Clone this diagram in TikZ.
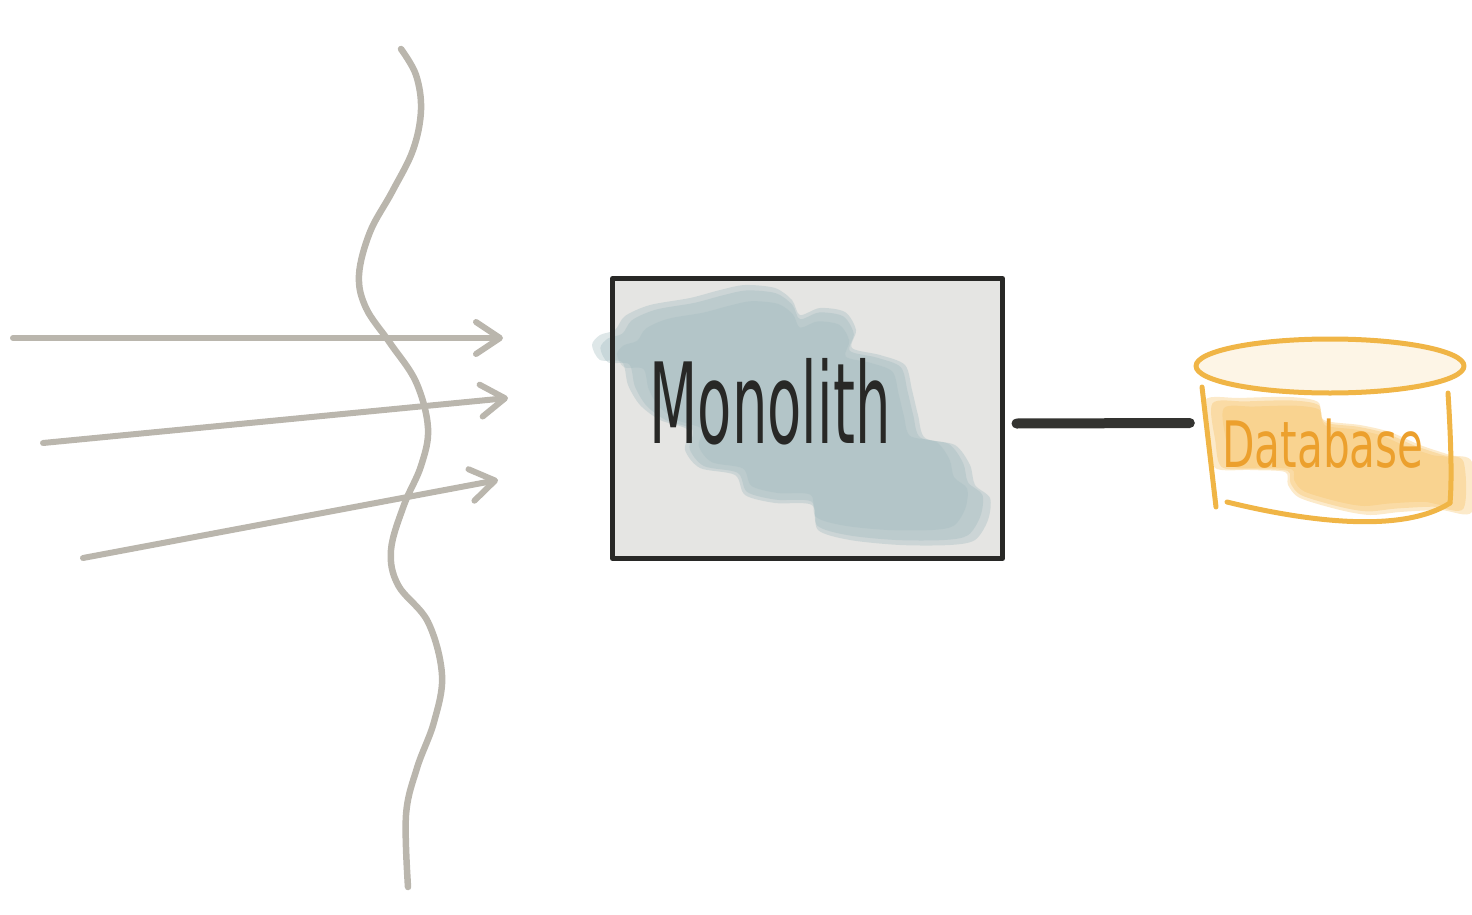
\documentclass[tikz,border=0pt]{standalone}
\usepackage{fontspec}
\setmainfont{DejaVu Sans}
\usetikzlibrary{arrows.meta,calc}
\definecolor{wavegray}{RGB}{186,182,173}
\definecolor{boxfill}{RGB}{229,229,227}
\definecolor{boxline}{RGB}{40,40,38}
\definecolor{blobblue}{RGB}{160,186,190}
\definecolor{connline}{RGB}{51,51,48}
\definecolor{dbline}{RGB}{240,181,70}
\definecolor{dbtop}{RGB}{253,245,230}
\definecolor{dbblob}{RGB}{245,185,80}
\definecolor{dbtext}{RGB}{236,160,45}
\tikzset{
  wave/.style={draw=wavegray, line width=6.5pt, line cap=round, line join=round},
  inarrow/.style={draw=wavegray, line width=6pt, line cap=round,
    -{Straight Barb[length=24pt,width=32pt,round]}},
  monobox/.style={fill=boxfill, minimum width=390pt, minimum height=280pt, inner sep=0pt, outer sep=0pt},
  conn/.style={draw=connline, line width=10pt, line cap=round},
  dbstroke/.style={draw=dbline, line width=5pt, line cap=round, line join=round},
}
\newcommand{\monoblob}{plot[smooth cycle, tension=0.5] coordinates {
 (615,330) (625,316) (650,305) (690,298) (720,290) (745,285) (775,288) (792,300)
 (800,315) (820,308) (845,312) (856,330) (852,348) (880,355) (905,365) (912,390)
 (918,415) (925,438) (955,445) (970,465) (975,485) (990,498) (988,520) (975,540)
 (950,545) (900,545) (850,540) (818,530) (812,505) (775,503) (745,495) (735,475)
 (700,468) (685,450) (688,430) (660,420) (640,405) (628,385) (622,362) (600,360)
 (592,345) (600,335)}}
\newcommand{\dbblobpath}{plot[smooth cycle, tension=0.5] coordinates {
 (1205,400) (1240,398) (1290,397) (1318,402) (1324,420) (1360,425) (1390,432)
 (1420,445) (1450,455) (1472,462) (1472,512) (1440,510) (1400,512) (1370,515)
 (1340,510) (1300,498) (1288,485) (1285,472) (1250,470) (1215,468) (1208,440)}}
\begin{document}
\begin{tikzpicture}[x=1pt,y=-1pt]
\useasboundingbox (0,0) rectangle (1472,915);
% wavy boundary line
\draw[wave] plot[smooth, tension=0.6] coordinates {
 (401,49) (416,75) (421,110) (413,150) (392,192) (370,232) (359,275) (366,308)
 (390,343) (416,382) (428,428) (421,466) (404,505) (391,550) (398,585)
 (428,622) (442,675) (434,722) (417,768) (406,815) (408,887)};
% incoming arrows
\coordinate (a1s) at (13,338);  \coordinate (a1e) at (503,338);
\coordinate (a2s) at (43,443);  \coordinate (a2e) at (508,398);
\coordinate (a3s) at (83,558);  \coordinate (a3e) at (498,480);
\draw[inarrow] (a1s) -- (a1e);
\draw[inarrow] (a2s) -- (a2e);
\draw[inarrow] (a3s) -- (a3e);
% monolith box
\node[monobox] (mono) at (807.5,418.5) {};
\fill[blobblue, opacity=0.35] \monoblob;
\fill[blobblue, opacity=0.35, scale around={0.96:(800,420)}] \monoblob;
\fill[blobblue, opacity=0.3, scale around={0.88:(800,420)}] \monoblob;
\draw[boxline, line width=5pt, line join=round] (mono.south west) rectangle (mono.north east);
\node[text=boxline, inner sep=0pt] (monotext) at (770,402)
  {\scalebox{0.5}[1]{\fontsize{112}{112}\selectfont Monolith}};
% database
\node[minimum width=274pt, minimum height=200pt, inner sep=0pt] (db) at (1327,423) {};
\fill[dbblob, opacity=0.3] \dbblobpath;
\fill[dbblob, opacity=0.3, scale around={0.94:(1330,455)}] \dbblobpath;
\fill[dbblob, opacity=0.25, scale around={0.85:(1330,455)}] \dbblobpath;
\draw[dbstroke, fill=dbtop] (1330,366) ellipse [x radius=134, y radius=27];
\draw[dbstroke] (1202,387) -- (1216,507);
\draw[dbstroke] (1448,393) .. controls (1451,440) and (1452,480) .. (1450,503);
\draw[dbstroke] (1227,502) .. controls (1300,520) and (1400,535) .. (1450,503);
\node[text=dbtext, inner sep=0pt] (dbtext) at (1323,444)
  {\scalebox{0.66}[1]{\fontsize{64}{64}\selectfont Database}};
% connector
\draw[conn] ($(mono.east)+(14,5)$) -- (db.west);
\end{tikzpicture}
\end{document}
